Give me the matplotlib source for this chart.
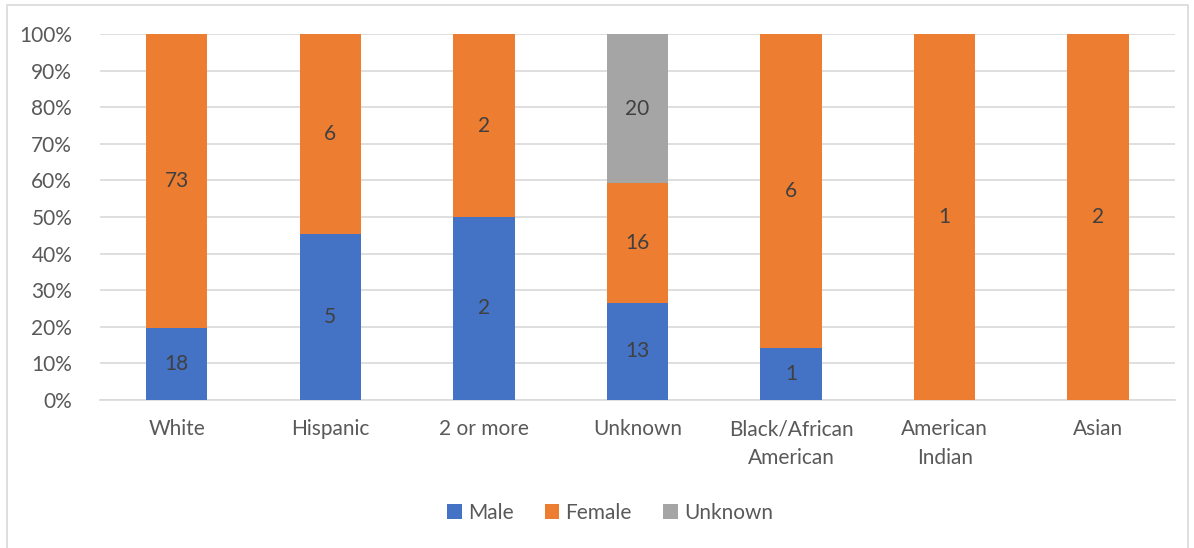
import numpy as np
import matplotlib.pyplot as plt
from matplotlib.patches import Rectangle

plt.rcParams['font.family'] = ['Lato', 'DejaVu Sans']

categories = ['White', 'Hispanic', '2 or more', 'Unknown', 'Black/African\nAmerican', 'American\nIndian', 'Asian']
male = [18, 5, 2, 13, 1, 0, 0]
female = [73, 6, 2, 16, 6, 1, 2]
unknown = [0, 0, 0, 20, 0, 0, 0]

series = [('Male', male, '#4472C4'), ('Female', female, '#ED7D31'), ('Unknown', unknown, '#A5A5A5')]

W, H = 1194, 548
fs = 15
fig = plt.figure(figsize=(W / 100, H / 100), dpi=100)
ax = fig.add_axes([100 / W, 1 - 400 / H, 1075 / W, 366 / H])

# frame around the chart area
fig.patches.append(Rectangle((7 / W, -0.01), 1181 / W, 1 - 5 / H + 0.01, transform=fig.transFigure,
                             fill=False, edgecolor='#D9D9D9', linewidth=1.2))

x = np.arange(len(categories))
totals = np.array(male) + np.array(female) + np.array(unknown)
bottom = np.zeros(len(categories))
for name, vals, col in series:
    vals = np.array(vals)
    frac = vals / totals
    ax.bar(x, frac, 0.4, bottom=bottom, color=col, label=name, zorder=3)
    for i in range(len(x)):
        if vals[i] > 0:
            ax.text(x[i], bottom[i] + frac[i] / 2, str(vals[i]), ha='center', va='center',
                    fontsize=fs, color='#404040', zorder=4)
    bottom += frac

ax.set_xlim(-0.5, len(categories) - 0.5)
ax.set_ylim(0, 1)
ax.set_yticks(np.arange(0, 1.01, 0.1))
ax.set_yticklabels([f'{int(round(v * 100))}%' for v in np.arange(0, 1.01, 0.1)])
ax.set_xticks(x)
ax.set_xticklabels(categories)
for lbl in ax.get_xticklabels():
    lbl.set_linespacing(1.55)
ax.yaxis.grid(True, color='#D9D9D9', linewidth=1.2, zorder=0)
for s in ['top', 'right', 'left']:
    ax.spines[s].set_visible(False)
ax.spines['bottom'].set_color('#D9D9D9')
ax.spines['bottom'].set_linewidth(1.2)
ax.tick_params(axis='both', length=0, labelsize=fs, labelcolor='#595959')
ax.tick_params(axis='y', pad=20)
ax.tick_params(axis='x', pad=14)

fig.legend(loc='center', bbox_to_anchor=(610 / W, 1 - 513 / H), ncol=3, frameon=False,
           fontsize=fs, labelcolor='#595959', handlelength=0.7, handleheight=0.7,
           handletextpad=0.3, columnspacing=1.5)

fig.savefig('out.png', dpi=100)
